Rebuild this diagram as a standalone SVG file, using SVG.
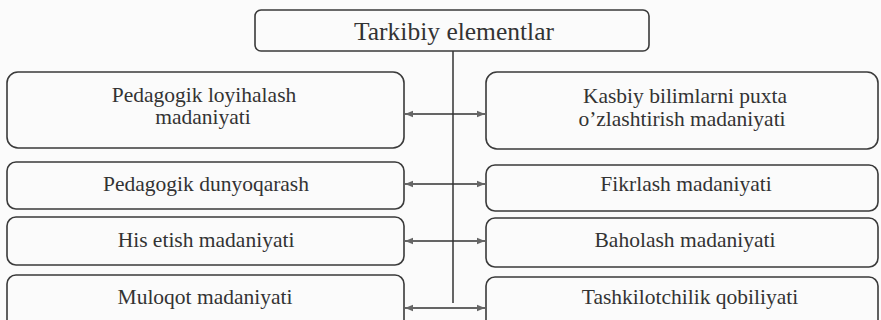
<svg xmlns="http://www.w3.org/2000/svg" width="881" height="320" viewBox="0 0 881 320">
<defs>
<style>
.box{fill:none;stroke:#3a3a3a;stroke-width:1.6}
.t{font-family:"Liberation Serif","Times New Roman",serif;font-size:21.5px;fill:#333;text-anchor:middle}
.title{font-size:25.5px}
.c{stroke:#333;stroke-width:1.5;fill:none}
</style>
<marker id="ah" viewBox="0 0 10 10" refX="10" refY="5" markerWidth="8" markerHeight="8" orient="auto-start-reverse" markerUnits="userSpaceOnUse">
<path d="M0,1 L10,5 L0,9 Z" fill="#666"/>
</marker>
</defs>
<rect width="881" height="320" fill="#fbfbfb"/>
<g id="connectors">
<path class="c" d="M453,51 V303"/>
<path class="c" d="M405,114 H485" marker-start="url(#ah)" marker-end="url(#ah)"/>
<path class="c" d="M405,184 H485" marker-start="url(#ah)" marker-end="url(#ah)"/>
<path class="c" d="M405,241 H485" marker-start="url(#ah)" marker-end="url(#ah)"/>
<path class="c" d="M405,308 H485" marker-start="url(#ah)" marker-end="url(#ah)"/>
</g>
<g id="n-title">
<rect class="box" x="255" y="10" width="394" height="41" rx="6"/>
<text class="t title" x="454" y="40">Tarkibiy elementlar</text>
</g>
<g id="n-l1">
<rect class="box" x="7" y="72" width="397" height="76" rx="11"/>
<text class="t" x="204" y="102">Pedagogik loyihalash</text>
<text class="t" x="203" y="124">madaniyati</text>
</g>
<g id="n-l2">
<rect class="box" x="7" y="162" width="397" height="47" rx="9"/>
<text class="t" x="206" y="191">Pedagogik dunyoqarash</text>
</g>
<g id="n-l3">
<rect class="box" x="7" y="217" width="397" height="48" rx="9"/>
<text class="t" x="206" y="247">His etish madaniyati</text>
</g>
<g id="n-l4">
<rect class="box" x="7" y="275" width="397" height="60" rx="9"/>
<text class="t" x="205" y="304">Muloqot madaniyati</text>
</g>
<g id="n-r1">
<rect class="box" x="486" y="72" width="392" height="77" rx="11"/>
<text class="t" x="685" y="103">Kasbiy bilimlarni puxta</text>
<text class="t" x="682" y="126">o’zlashtirish madaniyati</text>
</g>
<g id="n-r2">
<rect class="box" x="486" y="165" width="392" height="46" rx="9"/>
<text class="t" x="686" y="191">Fikrlash madaniyati</text>
</g>
<g id="n-r3">
<rect class="box" x="486" y="218" width="392" height="49" rx="9"/>
<text class="t" x="685" y="247">Baholash madaniyati</text>
</g>
<g id="n-r4">
<rect class="box" x="486" y="277" width="392" height="60" rx="9"/>
<text class="t" x="690" y="304">Tashkilotchilik qobiliyati</text>
</g>
</svg>
